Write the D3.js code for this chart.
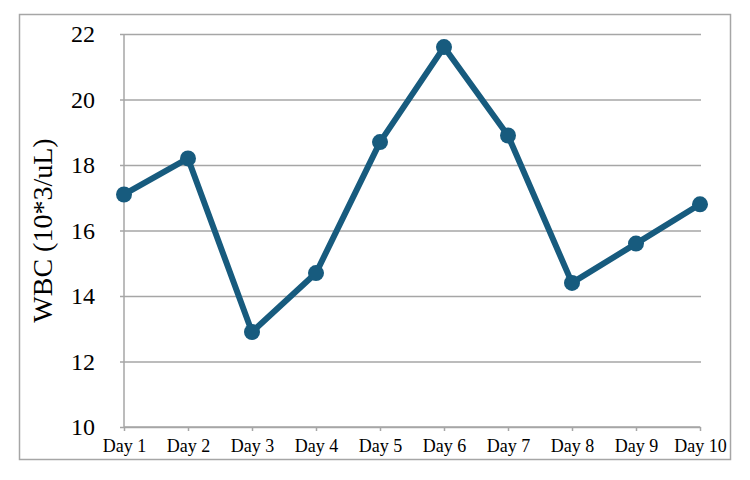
<!DOCTYPE html>
<html>
<head>
<meta charset="utf-8">
<script src="https://cdn.jsdelivr.net/npm/d3@7"></script>
<style>
  body { margin: 0; background: #fff; }
</style>
</head>
<body>
<script>
var days = ["Day 1", "Day 2", "Day 3", "Day 4", "Day 5", "Day 6", "Day 7", "Day 8", "Day 9", "Day 10"];
var wbc = [17.1, 18.2, 12.9, 14.7, 18.7, 21.6, 18.9, 14.4, 15.6, 16.8];
var yTicks = [10, 12, 14, 16, 18, 20, 22];

var width = 750, height = 480;
var margin = {top: 34, right: 50, bottom: 53, left: 124};
var lineColor = "#175b7e";
var gridColor = "#a6a6a6";
var serif = "'Liberation Serif', 'Times New Roman', serif";

var svg = d3.select("body").append("svg")
    .attr("width", width)
    .attr("height", height);

// chart border
svg.append("rect")
    .attr("x", 19.5)
    .attr("y", 14.5)
    .attr("width", 711)
    .attr("height", 445)
    .attr("fill", "none")
    .attr("stroke", "#a6a6a6")
    .attr("stroke-width", 1.5);

var x = d3.scalePoint()
    .domain(days)
    .range([margin.left, 700]);

var y = d3.scaleLinear()
    .domain([10, 22])
    .range([height - margin.bottom, margin.top]);

// gridlines + y labels
var yAxis = d3.axisLeft(y)
    .tickValues(yTicks)
    .tickSize(-(701 - margin.left))
    .tickFormat(d3.format("d"));

var yG = svg.append("g")
    .attr("transform", "translate(" + margin.left + ",0)")
    .call(yAxis)
    .attr("font-family", serif);
yG.select(".domain").remove();
yG.selectAll(".tick line")
    .attr("x1", -4)
    .attr("stroke", gridColor)
    .attr("stroke-width", 1.5);
yG.selectAll(".tick text")
    .attr("font-size", 24)
    .attr("fill", "#000")
    .attr("x", -29);

// vertical axis line
svg.append("line")
    .attr("x1", margin.left).attr("x2", margin.left)
    .attr("y1", y(22)).attr("y2", y(10))
    .attr("stroke", gridColor)
    .attr("stroke-width", 1.5);

// x axis
var xAxis = d3.axisBottom(x)
    .tickSize(4)
    .tickPadding(8);

var xG = svg.append("g")
    .attr("transform", "translate(0," + y(10) + ")")
    .call(xAxis)
    .attr("font-family", serif);
xG.select(".domain")
    .attr("d", "M" + margin.left + ",0H700")
    .attr("stroke", gridColor)
    .attr("stroke-width", 1.5);
xG.selectAll(".tick line")
    .attr("stroke", gridColor)
    .attr("stroke-width", 1.5);
xG.selectAll(".tick text")
    .attr("font-size", 18)
    .attr("fill", "#000")
    .attr("dy", "0.71em");

// y title
svg.append("text")
    .attr("transform", "translate(52," + (y(16)) + ") rotate(-90)")
    .attr("text-anchor", "middle")
    .attr("font-family", serif)
    .attr("font-size", 28)
    .text("WBC (10*3/uL)");

// series
var line = d3.line()
    .x(function(d, i) { return x(days[i]); })
    .y(function(d) { return y(d); });

svg.append("path")
    .datum(wbc)
    .attr("d", line)
    .attr("fill", "none")
    .attr("stroke", lineColor)
    .attr("stroke-width", 6)
    .attr("stroke-linejoin", "round");

svg.selectAll(".dot")
    .data(wbc)
    .enter()
    .append("circle")
    .attr("class", "dot")
    .attr("cx", function(d, i) { return x(days[i]); })
    .attr("cy", function(d) { return y(d); })
    .attr("r", 8)
    .attr("fill", lineColor);
</script>
</body>
</html>
